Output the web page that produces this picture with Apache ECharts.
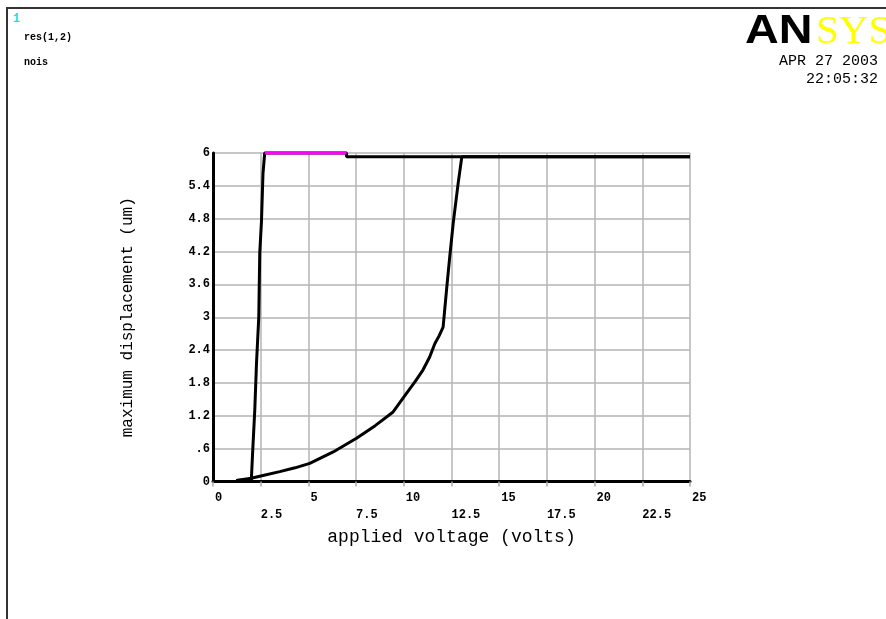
<!DOCTYPE html>
<html>
<head>
<meta charset="utf-8">
<script src="https://cdn.jsdelivr.net/npm/echarts@6/dist/echarts.min.js"></script>
<style>
html,body{margin:0;padding:0;background:#fff;}
#chart{width:886px;height:619px;}
</style>
</head>
<body>
<div id="chart"></div>
<script>
// ---- data ----
var curveSteep = [
  [1.22, 0.02], [2.01, 0.03], [2.07, 0.48], [2.19, 1.31], [2.28, 2.16],
  [2.40, 3.01], [2.45, 4.17], [2.54, 4.75], [2.62, 5.63], [2.71, 6.0],
  [7.0, 6.0], [7.0, 5.93], [25, 5.93]
];
var curveSmooth = [
  [1.22, 0.02], [2.0, 0.06], [2.62, 0.11], [3.5, 0.18], [4.3, 0.25],
  [5.07, 0.33], [6.3, 0.54], [7.52, 0.79], [8.5, 1.02], [9.44, 1.27],
  [10.14, 1.61], [10.6, 1.83], [11.01, 2.04], [11.35, 2.27], [11.63, 2.52],
  [11.85, 2.66], [12.06, 2.82], [12.24, 3.5], [12.41, 4.11], [12.59, 4.72],
  [12.85, 5.45], [13.04, 5.93], [25, 5.93]
];
var curveMagenta = [[2.71, 6.0], [7.0, 6.0]];

var xTicksUpper = [0, 5, 10, 15, 20, 25];
var xTicksLower = [2.5, 7.5, 12.5, 17.5, 22.5];
var yTicks = [0, 0.6, 1.2, 1.8, 2.4, 3, 3.6, 4.2, 4.8, 5.4, 6];

var xName = 'applied voltage (volts)';
var yName = 'maximum displacement (um)';
var topLeftLines = ['1', 'res(1,2)', 'nois'];
var dateLines = ['APR 27 2003', '22:05:32'];

// ---- chart ----
var MONO = '"Liberation Mono", "DejaVu Sans Mono", monospace';
function fmtY(v) {
  var s = String(Math.round(v * 10) / 10);
  if (s.indexOf('0.') === 0) s = s.substring(1);
  return s;
}
var chart = echarts.init(document.getElementById('chart'), null, {renderer: 'canvas'});
var lblStyle = {fontFamily: MONO, fontSize: 12, fontWeight: 'bold', color: '#000'};

var option = {
  backgroundColor: '#fff',
  animation: false,
  grid: {left: 213, right: 196, top: 153, bottom: 137.5, containLabel: false},
  xAxis: [{
    type: 'value', min: 0, max: 25, interval: 2.5,
    axisLine: {show: true, lineStyle: {color: '#000', width: 3}},
    axisTick: {show: true, length: 5, lineStyle: {color: '#aaa', width: 1.5}},
    splitLine: {show: true, lineStyle: {color: '#b4b4b4', width: 1.5}},
    axisLabel: Object.assign({customValues: xTicksUpper, margin: 10, align: 'left', padding: [0, 0, 0, 2],
      formatter: function (v) { return String(v); }}, lblStyle),
    name: xName, nameLocation: 'middle', nameGap: 47,
    nameTextStyle: {fontFamily: MONO, fontSize: 18, color: '#000'}
  }, {
    type: 'value', min: 0, max: 25, interval: 2.5, position: 'bottom',
    axisLine: {show: false}, axisTick: {show: false}, splitLine: {show: false},
    axisLabel: Object.assign({customValues: xTicksLower, margin: 27, align: 'left',
      formatter: function (v) { return String(v); }}, lblStyle)
  }],
  yAxis: {
    type: 'value', min: 0, max: 6, interval: 0.6,
    axisLine: {show: true, lineStyle: {color: '#000', width: 3}},
    axisTick: {show: false},
    splitLine: {show: true, lineStyle: {color: '#b4b4b4', width: 1.5}},
    axisLabel: Object.assign({customValues: yTicks, margin: 3, align: 'right', verticalAlign: 'middle',
      padding: [0, 0, 8, 0], formatter: fmtY}, lblStyle),
    name: yName, nameLocation: 'middle', nameGap: 77, nameRotate: 90,
    nameTextStyle: {fontFamily: MONO, fontSize: 16, color: '#000'}
  },
  series: [{
    type: 'line', data: curveSmooth, showSymbol: false, clip: false, z: 3,
    lineStyle: {color: '#000', width: 3}
  }, {
    type: 'line', data: curveSteep, showSymbol: false, clip: false, z: 3,
    lineStyle: {color: '#000', width: 3}
  }, {
    type: 'line', data: curveMagenta, showSymbol: false, clip: false, z: 4,
    lineStyle: {color: '#ff00ff', width: 3}
  }],
  graphic: [
    {type: 'rect', shape: {x: 6, y: 7, width: 2, height: 612}, style: {fill: '#333'}, silent: true},
    {type: 'rect', shape: {x: 6, y: 7, width: 880, height: 2}, style: {fill: '#333'}, silent: true},
    {type: 'text', x: 13, y: 19, style: {text: topLeftLines[0], fill: '#22e0e8', font: 'bold 12px ' + MONO, verticalAlign: 'middle'}},
    {type: 'text', x: 24, y: 37, style: {text: topLeftLines[1], fill: '#000', font: 'bold 10px ' + MONO, verticalAlign: 'middle'}},
    {type: 'text', x: 24, y: 62, style: {text: topLeftLines[2], fill: '#000', font: 'bold 10px ' + MONO, verticalAlign: 'middle'}},
    {type: 'text', x: 745, y: 32, scaleX: 1.14, style: {text: 'AN', fill: '#000', font: '900 41px "Liberation Sans", Arial, sans-serif', verticalAlign: 'middle'}},
    {type: 'text', x: 816, y: 32, style: {text: 'SYS', fill: '#ffff00', font: '41px "Liberation Serif", "Times New Roman", serif', verticalAlign: 'middle'}},
    {type: 'text', x: 878, y: 61, style: {text: dateLines[0], fill: '#000', font: '15px ' + MONO, align: 'right', verticalAlign: 'middle'}},
    {type: 'text', x: 878, y: 79, style: {text: dateLines[1], fill: '#000', font: '15px ' + MONO, align: 'right', verticalAlign: 'middle'}}
  ]
};
chart.setOption(option);
</script>
</body>
</html>
